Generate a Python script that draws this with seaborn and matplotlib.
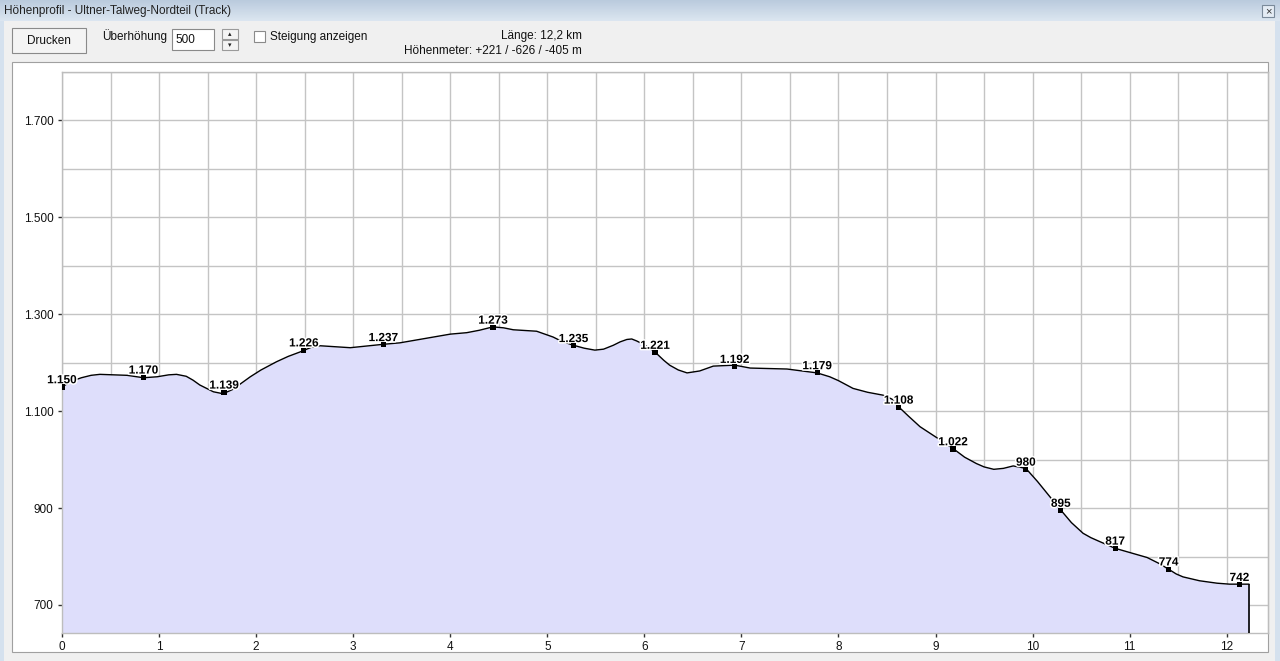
import matplotlib
matplotlib.use('Agg')
import matplotlib.pyplot as plt
import matplotlib.patches as mpatches
import matplotlib.patheffects as pe
from matplotlib.ticker import MultipleLocator, FuncFormatter
import seaborn as sns
import numpy as np
import pandas as pd

# Elevation profile (km, m)
distance_km = [0.0, 0.1, 0.2, 0.3, 0.39, 0.67, 0.84, 0.98, 1.1, 1.18, 1.28, 1.35, 1.42, 1.5,
               1.56, 1.66, 1.76, 1.85, 1.94, 2.05, 2.21, 2.33, 2.45, 2.57, 2.66, 2.97, 3.31,
               3.48, 4.0, 4.17, 4.3, 4.44, 4.55, 4.65, 4.89, 5.06, 5.15, 5.27, 5.38, 5.49,
               5.58, 5.68, 5.75, 5.82, 5.87, 5.92, 6.0, 6.11, 6.2, 6.26, 6.35, 6.44, 6.57,
               6.71, 6.93, 7.09, 7.47, 7.78, 7.91, 8.0, 8.15, 8.3, 8.46, 8.55, 8.62, 8.72,
               8.84, 9.0, 9.18, 9.3, 9.42, 9.5, 9.60, 9.7, 9.80, 9.93, 10.05, 10.18, 10.29,
               10.4, 10.52, 10.6, 10.69, 10.85, 11.18, 11.3, 11.40, 11.48, 11.55, 11.72,
               11.9, 12.03, 12.23]
elevation_m = [1150, 1162, 1169, 1174, 1176, 1174, 1169, 1171, 1175, 1176, 1172, 1164, 1154,
               1146, 1140, 1136, 1145, 1158, 1171, 1185, 1202, 1213, 1222, 1232, 1235, 1231,
               1238, 1241, 1259, 1262, 1267, 1274, 1272, 1268, 1265, 1253, 1244, 1236, 1230,
               1226, 1228, 1236, 1243, 1248, 1249, 1245, 1237, 1222, 1205, 1195, 1185, 1179,
               1183, 1193, 1195, 1189, 1187, 1179, 1171, 1163, 1147, 1139, 1133, 1125, 1109,
               1090, 1068, 1047, 1023, 1005, 992, 985, 980, 982, 987, 982, 955, 923, 896,
               870, 848, 839, 831, 817, 798, 786, 774, 764, 758, 750, 745, 743, 743]

# Labelled waypoints
label_km = [0.0, 0.84, 1.67, 2.49, 3.31, 4.44, 5.27, 6.11, 6.93, 7.78, 8.62, 9.18,
            9.93, 10.29, 10.85, 11.40, 12.13]
label_m = [1150, 1170, 1139, 1226, 1237, 1273, 1235, 1221, 1192, 1179, 1108, 1022,
           980, 895, 817, 774, 742]

x_ticks = list(range(0, 13))
y_ticks = [700, 900, 1100, 1300, 1500, 1700]

W, H = 1280, 661
sns.set_theme(style='white')
plt.rcParams['font.family'] = ['Liberation Sans', 'DejaVu Sans']

fig = plt.figure(figsize=(W / 100, H / 100), dpi=100)
fig.patch.set_facecolor('#F0F0F0')

# window chrome drawn in pixel coordinates
bg = fig.add_axes([0, 0, 1, 1], zorder=0)
bg.set_xlim(0, W)
bg.set_ylim(H, 0)
bg.axis('off')
grad = np.linspace(0, 1, 50).reshape(-1, 1)
bg.imshow(grad, extent=(0, W, 21, 0), aspect='auto',
          cmap=matplotlib.colors.LinearSegmentedColormap.from_list('tb', ['#BACBDD', '#DCE6F1']))
bg.add_patch(mpatches.Rectangle((0, 21), 4, H, color='#D5E1EE', lw=0))
bg.add_patch(mpatches.Rectangle((1275, 21), 5, H, color='#D5E1EE', lw=0))
bg.text(4, 11, 'Höhenprofil - Ultner-Talweg-Nordteil (Track)', fontsize=8.5,
        va='center', ha='left', color='#222222')
bg.add_patch(mpatches.Rectangle((1262, 5), 12, 12, facecolor='#E4ECF4', edgecolor='#7A8A9A', lw=0.8))
bg.text(1268, 11.5, '×', fontsize=8, ha='center', va='center', color='#333333')

# toolbar
bg.add_patch(mpatches.Rectangle((12, 28), 74, 25, facecolor='#F4F4F4', edgecolor='#8A8A8A', lw=0.8))
bg.text(49, 41, 'Drucken', fontsize=8.5, ha='center', va='center', color='#111111')
bg.text(102, 36, 'Überhöhung', fontsize=8.5, ha='left', va='center', color='#111111')
bg.add_patch(mpatches.Rectangle((172, 29), 42, 21, facecolor='white', edgecolor='#8A8A8A', lw=0.8))
bg.text(175, 40, '500', fontsize=8.5, ha='left', va='center', color='#111111')
bg.add_patch(mpatches.Rectangle((222, 29), 16, 10, facecolor='#F4F4F4', edgecolor='#9A9A9A', lw=0.8))
bg.add_patch(mpatches.Rectangle((222, 40), 16, 10, facecolor='#F4F4F4', edgecolor='#9A9A9A', lw=0.8))
bg.text(230, 34, '▴', fontsize=5, ha='center', va='center', color='#222222', family='DejaVu Sans')
bg.text(230, 45, '▾', fontsize=5, ha='center', va='center', color='#222222', family='DejaVu Sans')
bg.add_patch(mpatches.Rectangle((254, 31), 11, 11, facecolor='white', edgecolor='#8A8A8A', lw=0.8))
bg.text(270, 37, 'Steigung anzeigen', fontsize=8.5, ha='left', va='center', color='#111111')
bg.text(582, 36, 'Länge: 12,2 km', fontsize=8.5, ha='right', va='center', color='#111111')
bg.text(582, 51, 'Höhenmeter: +221 / -626 / -405 m', fontsize=8.5, ha='right', va='center',
        color='#111111')

# white chart panel
bg.add_patch(mpatches.Rectangle((12, 62), 1256, 590, facecolor='white', edgecolor='#A0A0A0', lw=0.8))

# chart axes
left, right, top, bottom = 62, 1268, 72, 633
ax = fig.add_axes([left / W, 1 - bottom / H, (right - left) / W, (bottom - top) / H], zorder=1)
ax.set_facecolor('none')

profile = pd.DataFrame({'km': distance_km, 'm': elevation_m})
labels = pd.DataFrame({'km': label_km, 'm': label_m})

ymin, ymax = 642.2, 1800
ax.fill_between(profile['km'], profile['m'], ymin, color='#DEDEFB', lw=0, zorder=1)
sns.lineplot(data=profile, x='km', y='m', color='black', lw=1, ax=ax, zorder=3)
ax.vlines(distance_km[-1], ymin, elevation_m[-1], color='black', lw=1.2, zorder=3)

for k, m in zip(label_km, label_m):
    txt = f'{m:,}'.replace(',', '.')
    ax.annotate(txt, (k, m), xytext=(0, 0.5), textcoords='offset points', ha='center',
                va='bottom', fontsize=8.5, fontweight='bold', color='black', zorder=5,
                path_effects=[pe.withStroke(linewidth=2.2, foreground='white')])

sns.scatterplot(data=labels, x='km', y='m', marker='s', s=14, color='black',
                edgecolor='none', ax=ax, zorder=6)

ax.set_xlim(0, (right - left) / 97.06)
ax.set_ylim(ymin, ymax)
ax.set_xticks(x_ticks)
ax.set_yticks(y_ticks)
ax.xaxis.set_minor_locator(MultipleLocator(0.5))
ax.yaxis.set_minor_locator(MultipleLocator(100))
ax.yaxis.set_major_formatter(FuncFormatter(lambda v, p: f'{int(v):,}'.replace(',', '.')))
ax.grid(True, which='both', color='#C4C4C4', lw=1, zorder=2)
for line in ax.get_xgridlines() + ax.get_ygridlines():
    line.set_zorder(2)
ax.tick_params(axis='both', which='major', length=3, width=1, color='#333333',
               labelsize=8.5, labelcolor='#111111', pad=3, bottom=True, left=True)
ax.tick_params(axis='both', which='minor', length=0)
ax.set_xlabel('')
ax.set_ylabel('')
for s in ax.spines.values():
    s.set_color('#BDBDBD')
    s.set_linewidth(1)

fig.savefig('out.png', dpi=100, facecolor=fig.get_facecolor())
